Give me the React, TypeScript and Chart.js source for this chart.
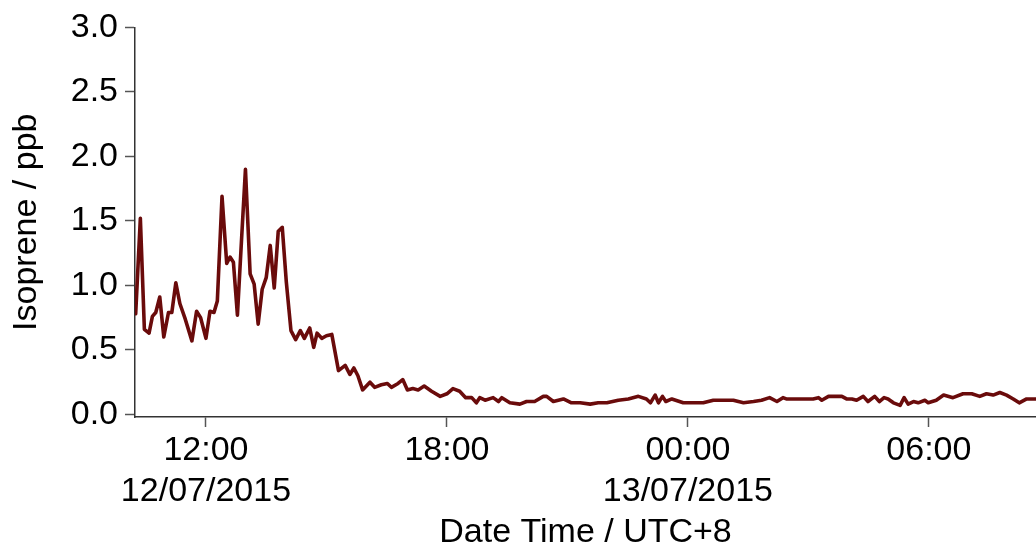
import { useEffect, useRef } from "react";
import { Chart, registerables } from "chart.js";

Chart.register(...registerables);

// Sampling times (local time, UTC+8), starting 12/07/2015 and running past midnight
const sampleTimes = [
  "10:15", "10:22", "10:28", "10:35", "10:40", "10:45", "10:51", "10:57", "11:04", "11:09",
  "11:15", "11:21", "11:29", "11:39", "11:46", "11:52", "12:00", "12:06", "12:12", "12:17",
  "12:24", "12:31", "12:36", "12:41", "12:47", "12:53", "12:59", "13:06", "13:12", "13:18",
  "13:24", "13:30", "13:36", "13:42", "13:48", "13:54", "14:00", "14:07", "14:14", "14:21",
  "14:27", "14:35", "14:41", "14:46", "14:53", "15:00", "15:08", "15:18", "15:28", "15:35",
  "15:41", "15:47", "15:54", "16:05", "16:12", "16:22", "16:31", "16:37", "16:47", "16:54",
  "17:01", "17:09", "17:17", "17:26", "17:37", "17:50", "18:00", "18:09", "18:19", "18:28",
  "18:37", "18:44", "18:49", "18:57", "19:09", "19:17", "19:22", "19:34", "19:49", "19:59",
  "20:11", "20:24", "20:29", "20:39", "20:54", "21:06", "21:19", "21:34", "21:46", "21:59",
  "22:16", "22:31", "22:46", "22:58", "23:04", "23:11", "23:16", "23:22", "23:27", "23:36",
  "23:53", "00:08", "00:23", "00:38", "00:53", "01:08", "01:23", "01:38", "01:50", "02:02",
  "02:13", "02:22", "02:27", "02:40", "02:55", "03:07", "03:15", "03:20", "03:30", "03:50",
  "03:57", "04:05", "04:12", "04:22", "04:29", "04:39", "04:46", "04:53", "04:59", "05:07",
  "05:17", "05:23", "05:29", "05:37", "05:44", "05:54", "05:59", "06:11", "06:22", "06:36",
  "06:51", "07:04", "07:16", "07:26", "07:36", "07:46", "07:56", "08:06", "08:15", "08:26",
  "08:40",
];

// Isoprene mixing ratio (ppb)
const isopreneValues = [
  0.78, 1.52, 0.66, 0.63, 0.76, 0.79, 0.91, 0.60, 0.79, 0.79,
  1.02, 0.86, 0.74, 0.57, 0.80, 0.75, 0.59, 0.80, 0.79, 0.88,
  1.69, 1.17, 1.22, 1.18, 0.77, 1.34, 1.90, 1.09, 1.01, 0.70,
  0.97, 1.06, 1.31, 0.98, 1.42, 1.45, 1.03, 0.65, 0.58, 0.65,
  0.59, 0.67, 0.52, 0.63, 0.59, 0.61, 0.62, 0.34, 0.38, 0.31,
  0.36, 0.30, 0.19, 0.25, 0.21, 0.23, 0.24, 0.21, 0.24, 0.27,
  0.19, 0.20, 0.19, 0.22, 0.18, 0.14, 0.16, 0.20, 0.18, 0.13,
  0.13, 0.09, 0.13, 0.11, 0.13, 0.10, 0.13, 0.09, 0.08, 0.10,
  0.10, 0.14, 0.14, 0.10, 0.12, 0.09, 0.09, 0.08, 0.09, 0.09,
  0.11, 0.12, 0.14, 0.12, 0.09, 0.15, 0.09, 0.14, 0.10, 0.12,
  0.09, 0.09, 0.09, 0.11, 0.11, 0.11, 0.09, 0.10, 0.11, 0.13,
  0.10, 0.13, 0.12, 0.12, 0.12, 0.12, 0.13, 0.11, 0.14, 0.14,
  0.12, 0.12, 0.11, 0.14, 0.10, 0.14, 0.10, 0.13, 0.12, 0.09,
  0.07, 0.13, 0.08, 0.10, 0.09, 0.11, 0.09, 0.11, 0.15, 0.13,
  0.16, 0.16, 0.14, 0.16, 0.15, 0.17, 0.15, 0.12, 0.09, 0.12,
  0.12,
];

// Axis ticks: hours counted from 12/07/2015 00:00
const xTickHours = [12, 18, 24, 30];
const xTickLabels: (string | string[])[] = [
  ["12:00", "12/07/2015"],
  "18:00",
  ["00:00", "13/07/2015"],
  "06:00",
];
const yTickValues = [0, 0.5, 1.0, 1.5, 2.0, 2.5, 3.0];

const xStartTime = "10:14";
const xEndTime = "08:40";

// Convert "HH:MM" strings into hours since 12/07/2015 00:00, rolling over midnight
function toHours(times: string[]): number[] {
  const out: number[] = [];
  let dayOffset = 0;
  let prev = -1;
  for (const t of times) {
    const [h, m] = t.split(":").map(Number);
    let v = h + m / 60;
    if (v + dayOffset < prev) dayOffset += 24;
    v += dayOffset;
    out.push(v);
    prev = v;
  }
  return out;
}

const FONT = "'Liberation Sans', Arial, Helvetica, sans-serif";
const TEXT_SIZE = 34;

export default function App() {
  const canvasRef = useRef<HTMLCanvasElement | null>(null);

  useEffect(() => {
    document.body.style.margin = "0";
    const canvas = canvasRef.current;
    if (!canvas) return;

    const hours = toHours(sampleTimes);
    const points = hours.map((x, i) => ({ x, y: isopreneValues[i] }));
    const [xMin] = toHours([xStartTime]);
    const xMax = toHours([xStartTime, xEndTime])[1];

    const chart = new Chart(canvas, {
      type: "line",
      data: {
        datasets: [
          {
            label: "Isoprene",
            data: points,
            borderColor: "#6a0b0b",
            borderWidth: 3.6,
            pointRadius: 0,
            tension: 0,
            fill: false,
            borderJoinStyle: "round",
            borderCapStyle: "round",
          },
        ],
      },
      options: {
        responsive: false,
        maintainAspectRatio: false,
        animation: false,
        devicePixelRatio: 1,
        layout: { padding: { top: 25, right: 0, bottom: 0, left: 0 } },
        plugins: {
          legend: { display: false },
          tooltip: { enabled: false },
        },
        scales: {
          x: {
            type: "linear",
            min: xMin,
            max: xMax,
            afterBuildTicks: (scale: any) => {
              scale.ticks = xTickHours.map((v) => ({ value: v }));
            },
            afterFit: (scale: any) => {
              scale.height = 133;
            },
            border: { display: true, color: "#333333", width: 1.5 },
            grid: {
              display: true,
              drawOnChartArea: false,
              drawTicks: true,
              tickLength: 10,
              tickColor: "#555555",
              tickWidth: 1.5,
            },
            ticks: {
              autoSkip: false,
              maxRotation: 0,
              minRotation: 0,
              padding: 3,
              color: "#000000",
              font: { family: FONT, size: TEXT_SIZE, lineHeight: 1.2 },
              callback: (value: any) => {
                const i = xTickHours.indexOf(Number(value));
                return i >= 0 ? xTickLabels[i] : "";
              },
            },
            title: {
              display: true,
              text: "Date Time / UTC+8",
              color: "#000000",
              font: { family: FONT, size: TEXT_SIZE, lineHeight: 1 },
              padding: { top: 0, bottom: 0 },
            },
          },
          y: {
            type: "linear",
            min: -0.02,
            max: 3.0,
            afterBuildTicks: (scale: any) => {
              scale.ticks = yTickValues.map((v) => ({ value: v }));
            },
            afterFit: (scale: any) => {
              scale.width = 135;
            },
            border: { display: true, color: "#333333", width: 1.5 },
            grid: {
              display: true,
              drawOnChartArea: false,
              drawTicks: true,
              tickLength: 10,
              tickColor: "#555555",
              tickWidth: 1.5,
            },
            ticks: {
              padding: 7,
              color: "#000000",
              font: { family: FONT, size: TEXT_SIZE },
              callback: (value: any) => Number(value).toFixed(1),
            },
            title: {
              display: true,
              text: "Isoprene / ppb",
              color: "#000000",
              font: { family: FONT, size: TEXT_SIZE, lineHeight: 1.2 },
              padding: { top: 6, bottom: 0 },
            },
          },
        },
      },
    });

    return () => chart.destroy();
  }, []);

  return (
    <div style={{ width: 1036, height: 550, background: "#ffffff" }}>
      <canvas ref={canvasRef} width={1036} height={550} style={{ display: "block" }} />
    </div>
  );
}
